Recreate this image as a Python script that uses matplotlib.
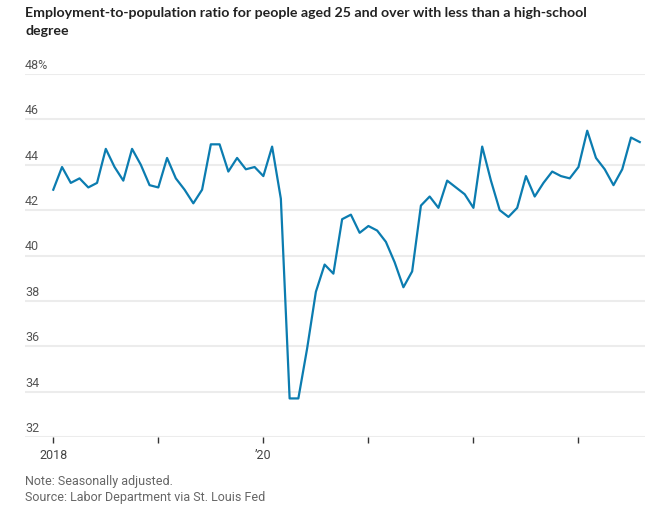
import matplotlib
matplotlib.use('Agg')
import matplotlib.pyplot as plt
import numpy as np

# monthly values, Jan 2018 - Aug 2023 (percent)
values = [
    42.9, 43.9, 43.2, 43.4, 43.0, 43.2, 44.7, 43.9, 43.3, 44.7, 44.0, 43.1,  # 2018
    43.0, 44.3, 43.4, 42.9, 42.3, 42.9, 44.9, 44.9, 43.7, 44.3, 43.8, 43.9,  # 2019
    43.5, 44.8, 42.5, 33.7, 33.7, 35.9, 38.4, 39.6, 39.2, 41.6, 41.8, 41.0,  # 2020
    41.3, 41.1, 40.6, 39.7, 38.6, 39.3, 42.2, 42.6, 42.1, 43.3, 43.0, 42.7,  # 2021
    42.1, 44.8, 43.3, 42.0, 41.7, 42.1, 43.5, 42.6, 43.2, 43.7, 43.5, 43.4,  # 2022
    43.9, 45.5, 44.3, 43.8, 43.1, 43.8, 45.2, 45.0,                          # 2023
]
months = np.arange(len(values))
y_ticks = [32, 34, 36, 38, 40, 42, 44, 46, 48]
y_labels = ['32', '34', '36', '38', '40', '42', '44', '46', '48%']
x_ticks = [0, 12, 24, 36, 48, 60]
x_labels = ['2018', '', '\u201920', '', '', '']

title = 'Employment-to-population ratio for people aged 25 and over with less than a high-school\ndegree'
note = 'Note: Seasonally adjusted.'
source = 'Source: Labor Department via St. Louis Fed'

plt.rcParams['font.family'] = ['Roboto', 'DejaVu Sans']

W, H = 660, 517
fig = plt.figure(figsize=(W / 100, H / 100), dpi=100)
ax = fig.add_axes([25 / W, (H - 437) / H, 620 / W, (437 - 74) / H])

ax.plot(months, values, color='#0b7cb0', lw=1.6, solid_joinstyle='round', zorder=3)

ax.set_ylim(32, 48)
ax.set_xlim(-3.23, 67.6)
for v in y_ticks:
    ax.axhline(v, color='#ececec', lw=1.5, zorder=1)
for v, lab in zip(y_ticks, y_labels):
    ax.annotate(lab, xy=(0, v), xycoords=('axes fraction', 'data'),
                xytext=(0, 1.5), textcoords='offset points',
                ha='left', va='bottom', fontsize=9, color='#555555')

ax.set_yticks([])
ax.set_xticks(x_ticks)
ax.set_xticklabels(x_labels, fontsize=9, color='#444444')
ax.tick_params(axis='x', length=4.5, width=1, color='#333333', pad=4)
for s in ax.spines.values():
    s.set_visible(False)

fig.text(25 / W, 1 - 7 / H, title, ha='left', va='top', fontsize=10.2,
         fontweight='bold', color='#222222', linespacing=1.6,
         family=['Lato', 'Roboto', 'DejaVu Sans'])
fig.text(25 / W, 1 - 481 / H, note, ha='left', va='center', fontsize=9, color='#666666')
fig.text(25 / W, 1 - 497 / H, source, ha='left', va='center', fontsize=9, color='#666666')

fig.savefig('out.png', dpi=100)
